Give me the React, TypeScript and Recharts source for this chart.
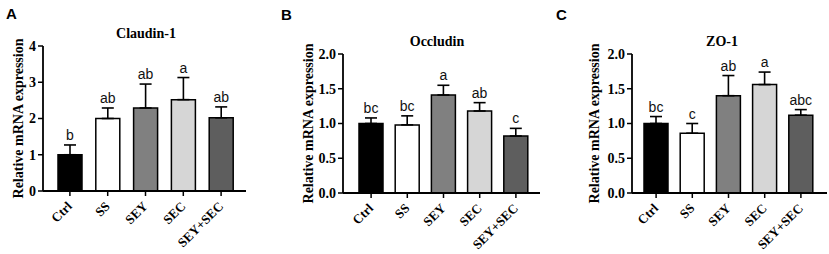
import { BarChart, Bar, XAxis, YAxis, ErrorBar, Cell, LabelList } from "recharts"

const GROUPS = ["Ctrl", "SS", "SEY", "SEC", "SEY+SEC"]
const FILLS = ["#000000", "#ffffff", "#808080", "#d6d6d6", "#5e5e5e"]

const CLAUDIN_MEAN = [1.0, 2.0, 2.29, 2.52, 2.02]
const CLAUDIN_SD = [0.27, 0.29, 0.66, 0.61, 0.3]
const CLAUDIN_SIG = ["b", "ab", "ab", "a", "ab"]

const OCCLUDIN_MEAN = [1.0, 0.98, 1.41, 1.18, 0.82]
const OCCLUDIN_SD = [0.08, 0.13, 0.14, 0.12, 0.11]
const OCCLUDIN_SIG = ["bc", "bc", "a", "ab", "c"]

const ZO1_MEAN = [1.0, 0.86, 1.4, 1.56, 1.12]
const ZO1_SD = [0.1, 0.14, 0.29, 0.18, 0.08]
const ZO1_SIG = ["bc", "c", "ab", "a", "abc"]

const TICKS_4 = [0, 1, 2, 3, 4]
const TICKS_2 = [0, 0.5, 1, 1.5, 2]

const SERIF = '"Liberation Serif", "Times New Roman", serif'
const SANS = '"Liberation Sans", Arial, sans-serif'

type PanelProps = {
  letter: string
  title: string
  mean: number[]
  sd: number[]
  sig: string[]
  ticks: number[]
  decimals: number
  left: number
  width: number
  yWidth: number
  top: number
  right: number
  xHeight: number
  pad: { left: number; right: number }
  titleX: number
  titleY: number
  letterY: number
  labelX: number
}

const XTick = (props: any) => {
  const { x, y, payload } = props
  const tx = x + 3
  const ty = y + 9
  return (
    <text
      x={tx}
      y={ty}
      transform={`rotate(-45, ${tx}, ${ty})`}
      textAnchor="end"
      fontFamily={SERIF}
      fontWeight="bold"
      fontSize={13}
      fill="#000"
    >
      {payload.value}
    </text>
  )
}

const Panel = (p: PanelProps) => {
  const data = GROUPS.map((g, i) => ({
    name: g,
    mean: p.mean[i],
    err: [0, p.sd[i]],
  }))
  const plotTop = p.top
  const plotBottom = 254 - p.xHeight
  const midY = (plotTop + plotBottom) / 2

  return (
    <div style={{ position: "absolute", left: p.left, top: 0, width: p.width, height: 254 }}>
      <BarChart
        width={p.width}
        height={254}
        data={data}
        margin={{ top: p.top, right: p.right, bottom: 0, left: 0 }}
      >
        <XAxis
          dataKey="name"
          height={p.xHeight}
          padding={p.pad}
          interval={0}
          tick={<XTick />}
          tickSize={5}
          axisLine={{ stroke: "#000", strokeWidth: 1.8 }}
          tickLine={{ stroke: "#000", strokeWidth: 1.5 }}
        />
        <YAxis
          width={p.yWidth}
          domain={[0, p.ticks[p.ticks.length - 1]]}
          ticks={p.ticks}
          interval={0}
          tickFormatter={(v: number) => v.toFixed(p.decimals)}
          tickSize={5}
          tick={{ fill: "#000", fontFamily: SERIF, fontWeight: "bold", fontSize: 14 }}
          axisLine={{ stroke: "#000", strokeWidth: 1.8 }}
          tickLine={{ stroke: "#000", strokeWidth: 1.5 }}
        />
        <Bar dataKey="mean" barSize={24} stroke="#000" strokeWidth={1.5} isAnimationActive={false}>
          {data.map((_, i) => (
            <Cell key={i} fill={FILLS[i]} />
          ))}
          <ErrorBar dataKey="err" width={6} stroke="#000" strokeWidth={1.6} direction="y" />
          <LabelList
            dataKey="mean"
            content={(lp: any) => {
              const { x, y, width, height, index } = lp
              const k = Number(height) / p.mean[index]
              const topY = Number(y) - p.sd[index] * k
              return (
                <text
                  x={Number(x) + Number(width) / 2}
                  y={topY - 5}
                  textAnchor="middle"
                  fontFamily={SANS}
                  fontSize={14}
                  fill="#111"
                >
                  {p.sig[index]}
                </text>
              )
            }}
          />
        </Bar>
      </BarChart>
      <svg
        width={p.width}
        height={254}
        style={{ position: "absolute", left: 0, top: 0, pointerEvents: "none" }}
      >
        <text x={6} y={p.letterY} fontFamily={SANS} fontWeight="bold" fontSize={15} fill="#000">
          {p.letter}
        </text>
        <text
          x={p.titleX}
          y={p.titleY}
          textAnchor="middle"
          fontFamily={SERIF}
          fontWeight="bold"
          fontSize={14}
          fill="#000"
        >
          {p.title}
        </text>
        <text
          x={p.labelX}
          y={midY}
          transform={`rotate(-90, ${p.labelX}, ${midY})`}
          textAnchor="middle"
          dominantBaseline="central"
          fontFamily={SERIF}
          fontWeight="bold"
          fontSize={14}
          fill="#000"
        >
          Relative mRNA expression
        </text>
      </svg>
    </div>
  )
}

const App = () => {
  return (
    <div style={{ position: "absolute", left: 0, top: 0, width: 829, height: 254, background: "#fff" }}>
      <Panel
        letter="A"
        title="Claudin-1"
        mean={CLAUDIN_MEAN}
        sd={CLAUDIN_SD}
        sig={CLAUDIN_SIG}
        ticks={TICKS_4}
        decimals={0}
        left={0}
        width={275}
        yWidth={43}
        top={46}
        right={29}
        xHeight={63}
        pad={{ left: 8, right: 6 }}
        titleX={146}
        titleY={38}
        letterY={19}
        labelX={18}
      />
      <Panel
        letter="B"
        title="Occludin"
        mean={OCCLUDIN_MEAN}
        sd={OCCLUDIN_SD}
        sig={OCCLUDIN_SIG}
        ticks={TICKS_2}
        decimals={1}
        left={275}
        width={275}
        yWidth={68}
        top={54}
        right={10}
        xHeight={61}
        pad={{ left: 10, right: 6 }}
        titleX={162}
        titleY={46}
        letterY={20}
        labelX={33}
      />
      <Panel
        letter="C"
        title="ZO-1"
        mean={ZO1_MEAN}
        sd={ZO1_SD}
        sig={ZO1_SIG}
        ticks={TICKS_2}
        decimals={1}
        left={550}
        width={279}
        yWidth={82}
        top={54}
        right={2}
        xHeight={61}
        pad={{ left: 6, right: 8 }}
        titleX={172}
        titleY={46}
        letterY={20}
        labelX={44}
      />
    </div>
  )
}

export default App
